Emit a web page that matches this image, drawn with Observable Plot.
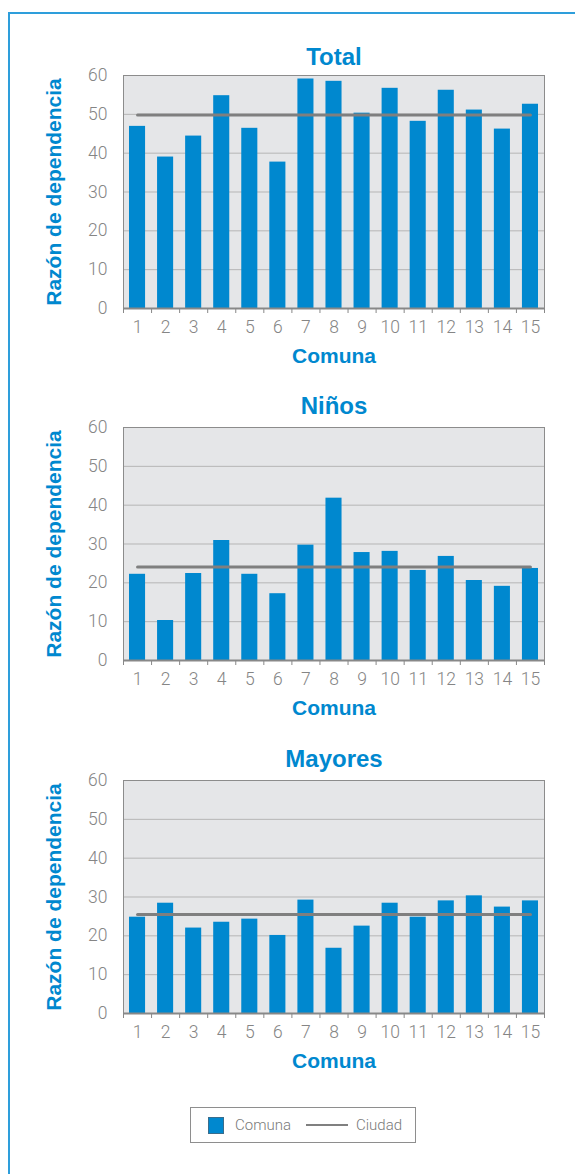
<!DOCTYPE html>
<html>
<head>
<meta charset="utf-8">
<script src="https://cdn.jsdelivr.net/npm/d3@7"></script>
<script src="https://cdn.jsdelivr.net/npm/@observablehq/plot@0.6"></script>
<style>
  html, body { margin: 0; padding: 0; background: #fff; }
  body { width: 575px; height: 1174px; overflow: hidden; position: relative; font-family: Roboto, "Liberation Sans", Arial, sans-serif; }
  #frame { position: absolute; left: 8px; top: 12px; width: 640px; height: 1240px; border: 2px solid #2e9edb; box-sizing: border-box; }
  .panel { position: absolute; left: 0; }
  .panel svg { overflow: visible; }
  #legend { position: absolute; left: 190px; top: 1107px; width: 226px; height: 36px; box-sizing: border-box; border: 1.5px solid #8e8e8e; background: #fff; display: flex; align-items: center; font-family: Roboto, "Liberation Sans", sans-serif; font-weight: 300; font-size: 15px; color: #7a7a7a; }
  #legend .sw { width: 14px; height: 15px; background: #0088cf; border: 1px solid #3a6d8c; margin-left: 17px; }
  #legend .t1 { margin-left: 11px; }
  #legend .ln { width: 42px; height: 2px; background: #808080; margin-left: 15px; }
  #legend .t2 { margin-left: 8px; }
</style>
</head>
<body>
<div id="frame"></div>
<div id="charts"></div>
<div id="legend"><span class="sw"></span><span class="t1">Comuna</span><span class="ln"></span><span class="t2">Ciudad</span></div>
<script>
// ---- data ----
const comunas = [1, 2, 3, 4, 5, 6, 7, 8, 9, 10, 11, 12, 13, 14, 15];
const total   = [46.9, 39.0, 44.4, 54.8, 46.4, 37.7, 59.1, 58.5, 50.3, 56.7, 48.2, 56.2, 51.1, 46.2, 52.6];
const ninos   = [22.2, 10.3, 22.4, 30.9, 22.2, 17.2, 29.7, 41.8, 27.8, 28.1, 23.2, 26.8, 20.6, 19.1, 23.7];
const mayores = [24.8, 28.4, 22.0, 23.5, 24.3, 20.1, 29.2, 16.8, 22.5, 28.4, 24.8, 29.0, 30.3, 27.4, 29.0];
const panelTitles = ["Total", "Niños", "Mayores"];
const ciudadValues = [49.8, 24.1, 25.5];
const yTicks = [0, 10, 20, 30, 40, 50, 60];
const yLabel = "Razón de dependencia";
const xLabel = "Comuna";

// ---- layout ----
const series = [total, ninos, mayores];
const plotTops = [75, 427, 780];
const titleOffsets = [-18, -21, -21];
const T = 50, PH = 233, B = 75;
const blue = "#0088cf";
const tickFont = "Roboto, 'Liberation Sans', Arial, sans-serif";
const boldFont = "'Liberation Sans', Arial, sans-serif";
const boundaries = comunas.map(c => c - 0.5).concat([comunas[comunas.length - 1] + 0.5]);

const charts = document.getElementById("charts");
series.forEach((vals, k) => {
  const data = comunas.map((c, i) => ({c, v: vals[i]}));
  const ciudad = ciudadValues[k];
  const chart = Plot.plot({
    width: 575,
    height: T + PH + B,
    marginLeft: 123,
    marginRight: 31,
    marginTop: T,
    marginBottom: B,
    style: {background: "transparent", fontFamily: tickFont, overflow: "visible"},
    x: {type: "linear", domain: [0.5, 15.5]},
    y: {domain: [0, 60]},
    marks: [
      Plot.frame({fill: "#e5e6e8", stroke: null}),
      Plot.gridY(yTicks.slice(1, -1), {stroke: "#b5b5b5", strokeOpacity: 1}),
      Plot.rectY(data, {x1: d => d.c - 0.5, x2: d => d.c + 0.5, y: "v", fill: blue, insetLeft: 6, insetRight: 6}),
      Plot.lineY(comunas, {x: d => d, y: () => ciudad, stroke: "#7f7f7f", strokeWidth: 3}),
      Plot.frame({stroke: "#8c8c8c"}),
      Plot.ruleY([0], {stroke: "#888", strokeWidth: 2}),
      Plot.axisY(yTicks, {tickSize: 0, tickPadding: 16, fontSize: 17.5, fontWeight: 300, fill: "#858585", label: null}),
      Plot.axisX(boundaries, {tickSize: 5, stroke: "#888", tickFormat: () => "", label: null}),
      Plot.axisX(comunas, {tickSize: 0, tickPadding: 12, fontSize: 17.5, fontWeight: 300, fill: "#858585", label: null}),
      Plot.text([panelTitles[k]], {text: d => d, frameAnchor: "top", lineAnchor: "middle", textAnchor: "middle", dy: titleOffsets[k], fontSize: 24, fontWeight: "bold", fill: blue, fontFamily: boldFont}),
      Plot.text([yLabel], {text: d => d, frameAnchor: "left", lineAnchor: "middle", textAnchor: "middle", dx: -69, rotate: -90, fontSize: 21, fontWeight: "bold", fill: blue, fontFamily: boldFont}),
      Plot.text([xLabel], {text: d => d, frameAnchor: "bottom", lineAnchor: "middle", textAnchor: "middle", dy: 48, fontSize: 21, fontWeight: "bold", fill: blue, fontFamily: boldFont})
    ]
  });
  const wrap = document.createElement("div");
  wrap.className = "panel";
  wrap.style.top = (plotTops[k] - T) + "px";
  wrap.appendChild(chart);
  charts.appendChild(wrap);
});
</script>
</body>
</html>
